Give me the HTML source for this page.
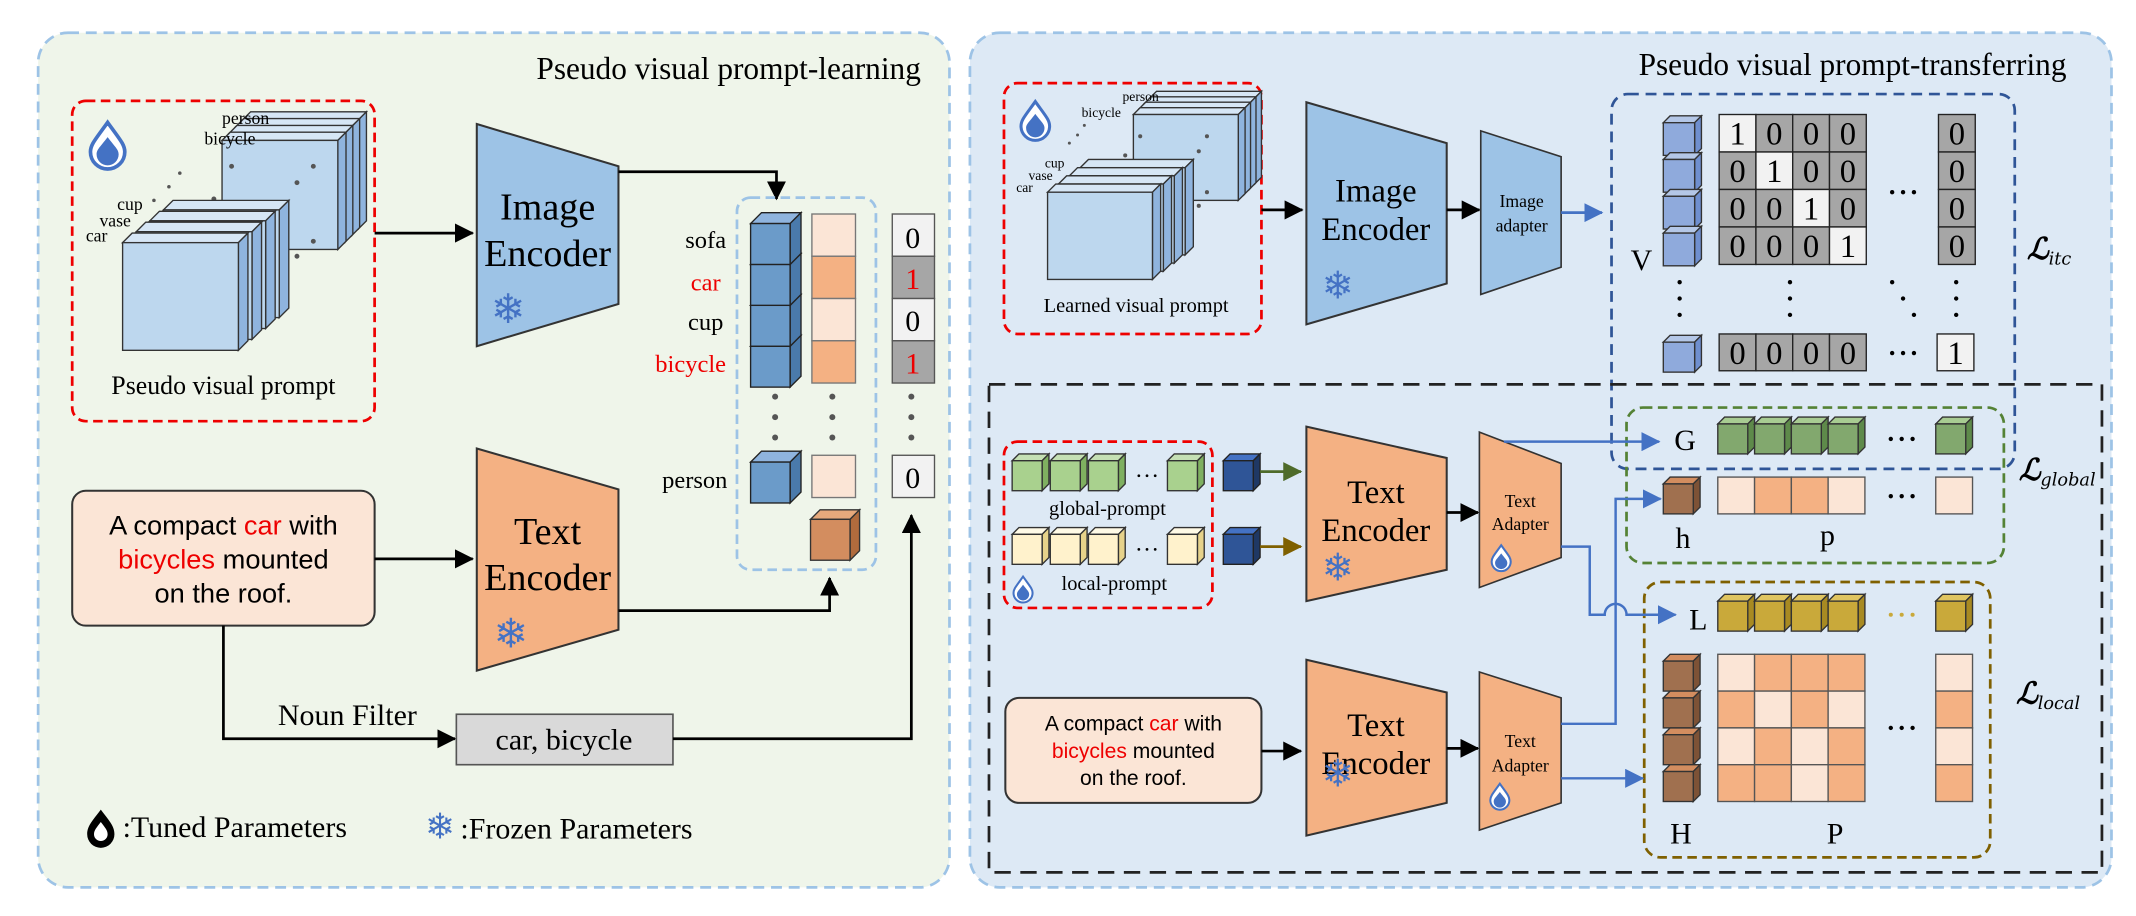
<!DOCTYPE html>
<html><head><meta charset="utf-8">
<style>
html,body{margin:0;padding:0;background:#fff;}
svg{display:block;}
.s{font-family:"Liberation Serif",serif;}
.a{font-family:"Liberation Sans",sans-serif;}
</style></head>
<body>
<svg id="g" width="2136" height="916" viewBox="0 0 1568 672" preserveAspectRatio="none" xmlns="http://www.w3.org/2000/svg">
<defs>
<marker id="ak" markerWidth="14" markerHeight="14" refX="13" refY="7" orient="auto" markerUnits="userSpaceOnUse"><path d="M0,0 L14,7 L0,14 z" fill="#000"/></marker>
<marker id="abl" markerWidth="14" markerHeight="14" refX="13" refY="7" orient="auto" markerUnits="userSpaceOnUse"><path d="M0,0 L14,7 L0,14 z" fill="#4472c4"/></marker>
<marker id="agr" markerWidth="14" markerHeight="14" refX="13" refY="7" orient="auto" markerUnits="userSpaceOnUse"><path d="M0,0 L14,7 L0,14 z" fill="#4e6b2a"/></marker>
<marker id="abr" markerWidth="14" markerHeight="14" refX="13" refY="7" orient="auto" markerUnits="userSpaceOnUse"><path d="M0,0 L14,7 L0,14 z" fill="#7f6000"/></marker>
</defs>
<!-- panels -->
<rect x="28" y="24" width="669" height="627" rx="22" fill="#eff5ea" stroke="#9dc3e6" stroke-width="2" stroke-dasharray="8,5"/>
<rect x="712" y="24" width="838" height="627" rx="22" fill="#dde9f5" stroke="#9dc3e6" stroke-width="2" stroke-dasharray="8,5"/>
<text x="676" y="58" text-anchor="end" class="s" font-size="23">Pseudo visual prompt-learning</text>
<text x="1517" y="55" text-anchor="end" class="s" font-size="23">Pseudo visual prompt-transferring</text>

<!-- LEFT -->
<rect x="53" y="74" width="222" height="235" rx="10" fill="none" stroke="#e00" stroke-width="2" stroke-dasharray="7,4"/>
<g id="lstack"></g>
<text x="163" y="91" class="s" font-size="13">person</text>
<text x="150" y="106" class="s" font-size="13">bicycle</text>
<text x="86" y="154" class="s" font-size="13">cup</text>
<text x="73" y="166" class="s" font-size="13">vase</text>
<text x="63" y="177" class="s" font-size="13">car</text>
<text x="164" y="289" text-anchor="middle" class="s" font-size="19">Pseudo visual prompt</text>

<polygon points="350,91 454,122 454,223 350,254" fill="#9dc3e6" stroke="#333" stroke-width="1.5"/>
<text x="402" y="161" text-anchor="middle" class="s" font-size="28">Image</text>
<text x="402" y="195" text-anchor="middle" class="s" font-size="28">Encoder</text>
<text x="373" y="237" text-anchor="middle" font-family="DejaVu Sans" font-size="30" fill="#4472c4">❄</text>
<line x1="275" y1="171" x2="347" y2="171" stroke="#000" stroke-width="2" marker-end="url(#ak)"/>
<polyline points="454,126 570,126 570,146" fill="none" stroke="#000" stroke-width="2" marker-end="url(#ak)"/>

<rect x="541" y="145" width="102" height="273" rx="10" fill="none" stroke="#9dc3e6" stroke-width="2" stroke-dasharray="7,4"/>
<g id="lcol"></g>
<text x="533" y="182" text-anchor="end" class="s" font-size="18">sofa</text>
<text x="529" y="213" text-anchor="end" class="s" font-size="18" fill="#e00">car</text>
<text x="531" y="242" text-anchor="end" class="s" font-size="18">cup</text>
<text x="533" y="273" text-anchor="end" class="s" font-size="18" fill="#e00">bicycle</text>
<text x="534" y="358" text-anchor="end" class="s" font-size="18">person</text>
<text x="670" y="182" text-anchor="middle" class="s" font-size="22">0</text>
<text x="670" y="212" text-anchor="middle" class="s" font-size="22" fill="#e00">1</text>
<text x="670" y="243" text-anchor="middle" class="s" font-size="22">0</text>
<text x="670" y="274" text-anchor="middle" class="s" font-size="22" fill="#e00">1</text>
<text x="670" y="358" text-anchor="middle" class="s" font-size="22">0</text>

<rect x="53" y="360" width="222" height="99" rx="10" fill="#fbe5d6" stroke="#333" stroke-width="1.5"/>
<text x="164" y="392" text-anchor="middle" class="a" font-size="20">A compact <tspan fill="#e00">car</tspan> with</text>
<text x="164" y="417" text-anchor="middle" class="a" font-size="20"><tspan fill="#e00">bicycles</tspan> mounted</text>
<text x="164" y="442" text-anchor="middle" class="a" font-size="20">on the roof.</text>

<polygon points="350,329 454,359 454,462 350,492" fill="#f4b183" stroke="#333" stroke-width="1.5"/>
<text x="402" y="399" text-anchor="middle" class="s" font-size="28">Text</text>
<text x="402" y="433" text-anchor="middle" class="s" font-size="28">Encoder</text>
<text x="375" y="475" text-anchor="middle" font-family="DejaVu Sans" font-size="30" fill="#4472c4">❄</text>
<line x1="275" y1="410" x2="347" y2="410" stroke="#000" stroke-width="2" marker-end="url(#ak)"/>
<polyline points="454,448 609,448 609,424" fill="none" stroke="#000" stroke-width="2" marker-end="url(#ak)"/>
<polyline points="164,459 164,542 334,542" fill="none" stroke="#000" stroke-width="2" marker-end="url(#ak)"/>
<text x="255" y="532" text-anchor="middle" class="s" font-size="22">Noun Filter</text>
<rect x="335" y="524" width="159" height="37" fill="#d9d9d9" stroke="#555" stroke-width="1.2"/>
<text x="414" y="550" text-anchor="middle" class="s" font-size="22">car, bicycle</text>
<polyline points="494,542 669,542 669,378" fill="none" stroke="#000" stroke-width="2" marker-end="url(#ak)"/>

<path d="M74,594 C68,602 64,606 64,612 A10,10 0 0 0 84,612 C84,606 80,602 74,594 z" fill="#000"/>
<path d="M74,603 C71,607 69,609 69,612 A5,5 0 0 0 79,612 C79,609 77,607 74,603 z" fill="#fff"/>
<text x="90" y="614" class="s" font-size="22">:Tuned Parameters</text>
<text x="323" y="615" text-anchor="middle" font-family="DejaVu Sans" font-size="26" fill="#4472c4">❄</text>
<text x="338" y="615" class="s" font-size="22">:Frozen Parameters</text>

<!-- RIGHT -->
<rect x="737" y="61" width="189" height="184" rx="10" fill="none" stroke="#e00" stroke-width="2" stroke-dasharray="7,4"/>
<g id="rstack"></g>
<text x="824" y="74" class="s" font-size="10">person</text>
<text x="794" y="86" class="s" font-size="10">bicycle</text>
<text x="767" y="123" class="s" font-size="10">cup</text>
<text x="755" y="132" class="s" font-size="10">vase</text>
<text x="746" y="141" class="s" font-size="10">car</text>
<text x="834" y="229" text-anchor="middle" class="s" font-size="15">Learned visual prompt</text>
<line x1="926" y1="154" x2="956" y2="154" stroke="#000" stroke-width="2" marker-end="url(#ak)"/>
<polygon points="959,75 1062,105 1062,208 959,238" fill="#9dc3e6" stroke="#333" stroke-width="1.5"/>
<text x="1010" y="148" text-anchor="middle" class="s" font-size="24">Image</text>
<text x="1010" y="176" text-anchor="middle" class="s" font-size="24">Encoder</text>
<text x="982" y="219" text-anchor="middle" font-family="DejaVu Sans" font-size="28" fill="#4472c4">❄</text>
<line x1="1062" y1="154" x2="1086" y2="154" stroke="#000" stroke-width="2" marker-end="url(#ak)"/>
<polygon points="1087,96 1146,115 1146,196 1087,216" fill="#9dc3e6" stroke="#333" stroke-width="1.2"/>
<text x="1117" y="152" text-anchor="middle" class="s" font-size="13">Image</text>
<text x="1117" y="170" text-anchor="middle" class="s" font-size="13">adapter</text>
<line x1="1146" y1="156" x2="1176" y2="156" stroke="#4472c4" stroke-width="2" marker-end="url(#abl)"/>

<rect x="1183" y="69" width="296" height="275" rx="12" fill="none" stroke="#2f5597" stroke-width="2" stroke-dasharray="8,5"/>
<text x="1197" y="198" class="s" font-size="22">V</text>
<g id="itc"></g>
<text x="1488" y="190" font-family="DejaVu Serif" font-style="italic" font-weight="bold" font-size="22">ℒ<tspan font-size="13" dy="4" font-weight="normal">itc</tspan></text>

<rect x="726" y="282" width="817" height="358" fill="none" stroke="#222" stroke-width="2" stroke-dasharray="12,7"/>
<rect x="1194" y="299" width="277" height="114" rx="12" fill="none" stroke="#548235" stroke-width="2" stroke-dasharray="7,4"/>
<rect x="1207" y="427" width="254" height="202" rx="12" fill="none" stroke="#7f6000" stroke-width="2" stroke-dasharray="7,4"/>
<text x="1229" y="330" class="s" font-size="22">G</text>
<text x="1230" y="402" class="s" font-size="22">h</text>
<text x="1336" y="400" class="s" font-size="22">p</text>
<text x="1240" y="462" class="s" font-size="22">L</text>
<text x="1226" y="619" class="s" font-size="22">H</text>
<text x="1341" y="619" class="s" font-size="22">P</text>
<text x="1482" y="352" font-family="DejaVu Serif" font-style="italic" font-weight="bold" font-size="22">ℒ<tspan font-size="13" dy="4" font-weight="normal">global</tspan></text>
<text x="1480" y="516" font-family="DejaVu Serif" font-style="italic" font-weight="bold" font-size="22">ℒ<tspan font-size="13" dy="4" font-weight="normal">local</tspan></text>
<g id="gl"></g>

<rect x="737" y="324" width="153" height="122" rx="10" fill="none" stroke="#e00" stroke-width="2" stroke-dasharray="7,4"/>
<g id="pr"></g>
<text x="813" y="378" text-anchor="middle" class="s" font-size="15">global-prompt</text>
<text x="818" y="433" text-anchor="middle" class="s" font-size="15">local-prompt</text>
<line x1="925" y1="346" x2="955" y2="346" stroke="#4e6b2a" stroke-width="2" marker-end="url(#agr)"/>
<line x1="925" y1="401" x2="955" y2="401" stroke="#7f6000" stroke-width="2" marker-end="url(#abr)"/>

<polygon points="959,313 1062,336 1062,418 959,441" fill="#f4b183" stroke="#333" stroke-width="1.5"/>
<text x="1010" y="369" text-anchor="middle" class="s" font-size="24">Text</text>
<text x="1010" y="397" text-anchor="middle" class="s" font-size="24">Encoder</text>
<text x="982" y="426" text-anchor="middle" font-family="DejaVu Sans" font-size="28" fill="#4472c4">❄</text>
<line x1="1062" y1="376" x2="1085" y2="376" stroke="#000" stroke-width="2" marker-end="url(#ak)"/>
<polygon points="1086,317 1146,340 1146,409 1086,431" fill="#f4b183" stroke="#333" stroke-width="1.2"/>
<text x="1116" y="372" text-anchor="middle" class="s" font-size="13">Text</text>
<text x="1116" y="389" text-anchor="middle" class="s" font-size="13">Adapter</text>

<rect x="738" y="512" width="188" height="77" rx="10" fill="#fbe5d6" stroke="#333" stroke-width="1.5"/>
<text x="832" y="536" text-anchor="middle" class="a" font-size="15.5">A compact <tspan fill="#e00">car</tspan> with</text>
<text x="832" y="556" text-anchor="middle" class="a" font-size="15.5"><tspan fill="#e00">bicycles</tspan> mounted</text>
<text x="832" y="576" text-anchor="middle" class="a" font-size="15.5">on the roof.</text>
<line x1="926" y1="551" x2="955" y2="551" stroke="#000" stroke-width="2" marker-end="url(#ak)"/>
<polygon points="959,484 1062,508 1062,589 959,613" fill="#f4b183" stroke="#333" stroke-width="1.5"/>
<text x="1010" y="540" text-anchor="middle" class="s" font-size="24">Text</text>
<text x="1010" y="568" text-anchor="middle" class="s" font-size="24">Encoder</text>
<text x="982" y="577" text-anchor="middle" font-family="DejaVu Sans" font-size="28" fill="#4472c4">❄</text>
<line x1="1062" y1="549" x2="1085" y2="549" stroke="#000" stroke-width="2" marker-end="url(#ak)"/>
<polygon points="1086,493 1146,512 1146,589 1086,609" fill="#f4b183" stroke="#333" stroke-width="1.2"/>
<text x="1116" y="548" text-anchor="middle" class="s" font-size="13">Text</text>
<text x="1116" y="566" text-anchor="middle" class="s" font-size="13">Adapter</text>

<!-- blue connectors -->
<polyline points="1104,324 1218,324" fill="none" stroke="#4472c4" stroke-width="1.8" marker-end="url(#abl)"/>
<path d="M1146,401 L1167,401 L1167,451 L1178,451 A8,8 0 0 1 1194,451 L1230,451" fill="none" stroke="#4472c4" stroke-width="1.8" marker-end="url(#abl)"/>
<polyline points="1146,531 1186,531 1186,366 1219,366" fill="none" stroke="#4472c4" stroke-width="1.8" marker-end="url(#abl)"/>
<line x1="1146" y1="571" x2="1206" y2="571" stroke="#4472c4" stroke-width="1.8" marker-end="url(#abl)"/>
<g id="drops"></g>
</svg>
<script>
var NS="http://www.w3.org/2000/svg";
function el(p,t,a){var e=document.createElementNS(NS,t);for(var k in a)e.setAttribute(k,a[k]);p.appendChild(e);return e;}
function cube(p,x,y,w,h,d,f,tf,sf,st,sw){st=st||"#222";sw=sw||1;
 el(p,"polygon",{points:[x,y,x+d,y-d,x+w+d,y-d,x+w,y].join(","),fill:tf,stroke:st,"stroke-width":sw});
 el(p,"polygon",{points:[x+w,y,x+w+d,y-d,x+w+d,y+h-d,x+w,y+h].join(","),fill:sf,stroke:st,"stroke-width":sw});
 el(p,"rect",{x:x,y:y,width:w,height:h,fill:f,stroke:st,"stroke-width":sw});}
function dot(p,x,y,r){el(p,"circle",{cx:x,cy:y,r:r||1.6,fill:"#555"});}
function cell(p,x,y,w,h,f,st){el(p,"rect",{x:x,y:y,width:w,height:h,fill:f,stroke:st||"#555","stroke-width":1});}
function txt(p,x,y,s,fs){var t=el(p,"text",{x:x,y:y,"text-anchor":"middle","font-family":"Liberation Serif, serif","font-size":fs||20});t.textContent=s;}
function drop(p,x,y,s,c){s=s||1;c=c||"#4472c4";
 el(p,"path",{d:"M"+x+","+(y-9*s)+" C"+(x-5*s)+","+(y-2*s)+" "+(x-7*s)+","+y+" "+(x-7*s)+","+(y+3*s)+" A"+(7*s)+","+(7*s)+" 0 0 0 "+(x+7*s)+","+(y+3*s)+" C"+(x+7*s)+","+y+" "+(x+5*s)+","+(y-2*s)+" "+x+","+(y-9*s)+" z",fill:"#fff",stroke:c,"stroke-width":1.5*s});
 el(p,"path",{d:"M"+x+","+(y-3*s)+" C"+(x-3*s)+","+(y+1*s)+" "+(x-4.5*s)+","+(y+2*s)+" "+(x-4.5*s)+","+(y+4*s)+" A"+(4.5*s)+","+(4.5*s)+" 0 0 0 "+(x+4.5*s)+","+(y+4*s)+" C"+(x+4.5*s)+","+(y+2*s)+" "+(x+3*s)+","+(y+1*s)+" "+x+","+(y-3*s)+" z",fill:c});}
var B="#bdd7ee",BT="#d6e6f5",BS="#8fb4de";
var g=document.getElementById("lstack");
for(var i=3;i>=0;i--)cube(g,163+i*5,103-i*5,85,80,6,B,BT,BS,"#333",1);
[[170,122],[230,122],[218,134],[157,146],[207,159],[230,177],[218,188],[207,199],[196,210],[144,162]].forEach(function(a){dot(g,a[0],a[1],1.8);});
for(var i=3;i>=0;i--)cube(g,90+i*10,178-i*8,85,79,7,B,BT,BS,"#333",1);
dot(g,132,127,1.3);dot(g,124,137,1.3);dot(g,113,147,1.3);
drop(g,79,106,1.8);
g=document.getElementById("lcol");
for(var i=3;i>=0;i--)cube(g,551,164+i*30,29,30,8,"#6b9bc9","#8fb4de","#4a7aab","#222",1);
cube(g,551,339,29,30,8,"#6b9bc9","#8fb4de","#4a7aab","#222",1);
["#fbe5d6","#f4b183","#fbe5d6","#f4b183"].forEach(function(c,i){cell(g,596,157+i*31,32,31,c,"#777");});
cell(g,596,334,32,31,"#fbe5d6","#777");
cube(g,595,381,29,30,7,"#d38d5f","#e6a97c","#b06b3d","#333",1);
["#f2f2f2","#a6a6a6","#f2f2f2","#a6a6a6"].forEach(function(c,i){cell(g,655,157+i*31,31,31,c,"#555");});
cell(g,655,334,31,31,"#f2f2f2","#555");
[569,611,669].forEach(function(x){[291,306,321].forEach(function(y){dot(g,x,y,2.2);});});
g=document.getElementById("rstack");
for(var i=3;i>=0;i--)cube(g,832+i*4,84-i*4,77,63,5,B,BT,BS,"#333",1);
[[837,100],[886,100],[880,111],[826,114],[870,125],[886,141],[880,151],[870,160]].forEach(function(a){dot(g,a[0],a[1],1.5);});
for(var i=3;i>=0;i--)cube(g,769+i*8,141-i*6,77,64,6,B,BT,BS,"#333",1);
dot(g,796,92,1.1);dot(g,791,99,1.1);dot(g,785,105,1.1);
drop(g,760,88,1.5);
drop(g,1101,193,1);
g=document.getElementById("itc");
var V="#8faadc",VT="#b4c7e7",VS="#6f8fcf";
for(var i=0;i<4;i++)cube(g,1221,90+i*27,23,24,5,V,VT,VS,"#333",1);
cube(g,1221,251,23,22,5,V,VT,VS,"#333",1);
for(var r=0;r<4;r++){for(var c=0;c<4;c++){var on=r==c;cell(g,1262+c*27,84+r*27.5,27,27.5,on?"#f2f2f2":"#a6a6a6","#222");txt(g,1275.5+c*27,106+r*27.5,on?"1":"0",24);}
 cell(g,1423,84+r*27.5,27,27.5,"#a6a6a6","#222");txt(g,1436.5,106+r*27.5,"0",24);}
for(var c=0;c<4;c++){cell(g,1262+c*27,245,27,27,"#a6a6a6","#222");txt(g,1275.5+c*27,267,"0",24);}
cell(g,1422,245,27,27,"#f2f2f2","#222");txt(g,1435.5,267,"1",24);
function dots3(p,x,y,dx,dy,r){for(var k=0;k<3;k++){el(p,"circle",{cx:x+k*dx,cy:y+k*dy,r:r||1.6,fill:"#000"});}}
dots3(g,1389,141,8,0);dots3(g,1389,259,8,0);
dots3(g,1233,207,0,12);dots3(g,1314,207,0,12);dots3(g,1436,207,0,12);dots3(g,1389,207,8,12);
g=document.getElementById("gl");
var G="#82a86e",GT="#a8cc92",GS="#5e8a4a";
for(var i=0;i<4;i++)cube(g,1261+i*27,311,22,22,5,G,GT,GS,"#333",1);
cube(g,1421,311,22,22,5,G,GT,GS,"#333",1);
dots3(g,1388,322,8,0);
cube(g,1221,355,22,22,5,"#a0704f","#d38d5f","#7d5236","#333",1);
["#fbe5d6","#f4b183","#f4b183","#fbe5d6"].forEach(function(c,i){cell(g,1261+i*27,350,27,27,c,"#555");});
cell(g,1421,350,27,27,"#fbe5d6","#555");dots3(g,1388,364,8,0);
var Y="#c9a93a",YT="#e0c560",YS="#a88a22";
for(var i=0;i<4;i++)cube(g,1261+i*27,441,22,22,5,Y,YT,YS,"#333",1);
cube(g,1421,441,22,22,5,Y,YT,YS,"#333",1);
for(var k=0;k<3;k++)el(g,"circle",{cx:1388+k*8,cy:451,r:1.5,fill:"#c9a93a"});
for(var i=0;i<4;i++)cube(g,1221,485+i*27,22,22,5,"#a0704f","#d38d5f","#7d5236","#333",1);
var L="#fbe5d6",O="#f4b183";
var P=[[L,O,O,O],[O,L,O,L],[L,O,L,O],[O,O,L,O]];
for(var r=0;r<4;r++){for(var c=0;c<4;c++)cell(g,1261+c*27,480+r*27,27,27,P[r][c],"#555");cell(g,1421,480+r*27,27,27,[L,O,L,O][r],"#555");}
dots3(g,1388,534,8,0);
g=document.getElementById("pr");
var gx=[743,771,799,857];
gx.forEach(function(x){cube(g,x,338,22,22,5,"#a9d18e","#c5e0b4","#7fb060","#333",1);});
gx.forEach(function(x){cube(g,x,392,22,22,5,"#fff2cc","#fffae6","#e6d28a","#333",1);});
dots3(g,836,349,6,0,1);dots3(g,836,403,6,0,1);
cube(g,898,338,22,22,5,"#2f5597","#4472c4","#1f3864","#222",1);
cube(g,898,392,22,22,5,"#2f5597","#4472c4","#1f3864","#222",1);
drop(g,751,432,1);
g=document.getElementById("drops");
drop(g,1102,409,1);drop(g,1101,584,1);
</script>
</body></html>
